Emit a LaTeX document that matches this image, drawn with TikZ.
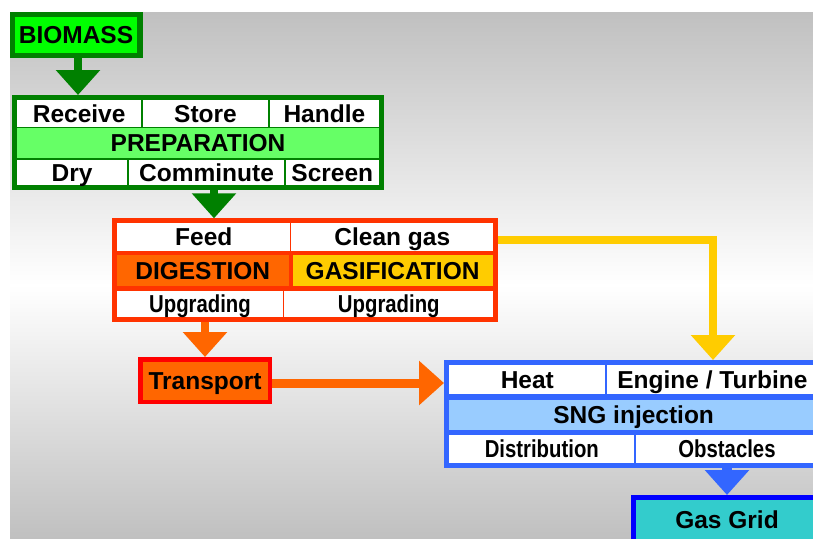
\documentclass[tikz,border=0pt]{standalone}
\usepackage{fontspec}
\setmainfont{Liberation Sans}
\usepackage{graphicx}
\usetikzlibrary{arrows.meta}
\definecolor{dkgreen}{HTML}{008000}
\definecolor{bgreen}{HTML}{00FF00}
\definecolor{lgreen}{HTML}{66FF66}
\definecolor{redorange}{HTML}{FF3300}
\definecolor{orng}{HTML}{FF6600}
\definecolor{goldy}{HTML}{FFCC00}
\definecolor{sblue}{HTML}{3366FF}
\definecolor{lblue}{HTML}{99CCFF}
\definecolor{tealy}{HTML}{33CCCC}
\definecolor{pureblue}{HTML}{0000FF}
\definecolor{purered}{HTML}{FF0000}
\definecolor{bggray}{HTML}{C0C0C0}
\newcommand\mkcell[7]{\node[cellbox,fill=#2,minimum width=#5pt,minimum height=#6pt] (#1) at (#3,#4) {#7};}
\newcommand\nrw[1]{\scalebox{0.83}[1]{#1}}
\tikzset{
  cellbox/.style={rectangle, inner sep=0pt, outer sep=0pt,
    font=\bfseries\fontsize{24.5}{28}\selectfont, text height=17.5pt, text depth=0pt},
  bigarrow/.style={line width=#1, -{Triangle[width=43pt,length=25pt]}},
  bigarrow/.default=8pt
}
\begin{document}
\begin{tikzpicture}[x=1pt,y=-1pt]
\useasboundingbox (0,0) rectangle (813,538);
% background
\fill[top color=bggray, bottom color=white] (10,12) rectangle (813,285.5);
\fill[top color=white, bottom color=bggray] (10,285) rectangle (813,538);

% BIOMASS
\mkcell{biomass}{dkgreen}{76}{35}{133}{46}{}
\mkcell{biomassin}{bgreen}{76}{35}{122}{36}{BIOMASS}

% PREPARATION box
\mkcell{prep}{dkgreen}{198}{142.5}{372}{95}{}
\mkcell{receive}{white}{79.15}{113.25}{124.3}{26.5}{Receive}
\mkcell{store}{white}{205.5}{113.25}{125.6}{26.5}{Store}
\mkcell{handle}{white}{324.35}{113.25}{109.3}{26.5}{Handle}
\mkcell{preparation}{lgreen}{198}{143}{362}{30}{PREPARATION}
\mkcell{dry}{white}{72.15}{172.25}{110.3}{25.5}{Dry}
\mkcell{comminute}{white}{206.5}{172.25}{155.6}{25.5}{Comminute}
\mkcell{screen}{white}{332.35}{172.25}{93.3}{25.5}{Screen}

% DIGESTION / GASIFICATION box
\mkcell{dig}{redorange}{305.3}{270}{386}{103.4}{}
\mkcell{feed}{white}{203.8}{237}{173}{27.4}{Feed}
\mkcell{clean}{white}{392.3}{237}{202}{27.4}{Clean gas}
\mkcell{digestion}{orng}{202.7}{270.5}{171.6}{31}{DIGESTION}
\mkcell{gasification}{goldy}{392.6}{270.5}{199.8}{31}{GASIFICATION}
\mkcell{upgA}{white}{200}{303.7}{165.4}{26}{\nrw{Upgrading}}
\mkcell{upgB}{white}{388.8}{303.7}{209}{26}{\nrw{Upgrading}}

% Transport
\mkcell{transport}{purered}{205}{380.5}{134}{47}{}
\mkcell{transportin}{orng}{205}{380.8}{125}{38.3}{Transport}

% SNG box
\mkcell{sng}{sblue}{633.5}{414.15}{379}{108.3}{}
\mkcell{heat}{white}{527.3}{379.5}{156}{29}{Heat}
\mkcell{engine}{white}{712.35}{379.5}{211.3}{29}{Engine / Turbine}
\mkcell{sngrow}{lblue}{633.65}{415}{368.7}{30}{SNG injection}
\mkcell{distribution}{white}{541.8}{448.85}{185}{27.7}{\nrw{Distribution}}
\mkcell{obstacles}{white}{727}{448.85}{182}{27.7}{\nrw{Obstacles}}

% Gas Grid
\mkcell{gasgrid}{pureblue}{727}{520}{192}{50}{}
\mkcell{gasgridin}{tealy}{727}{520}{182}{40}{Gas Grid}

% connectors
\coordinate (turn) at (713,240);
\draw[bigarrow, dkgreen] ([xshift=2pt]biomass.south) -- ([xshift=2pt]biomass.south |- prep.north);
\draw[bigarrow, dkgreen] ([xshift=16pt]prep.south) -- ([xshift=16pt]prep.south |- dig.north);
\draw[bigarrow, orng] (transport.north |- dig.south) -- (transport.north);
\draw[bigarrow=9pt, orng] ([yshift=-2.5pt]transport.east) -- ([yshift=-2.5pt]transport.east -| sng.west);
\draw[bigarrow, goldy] (turn -| dig.east) -- (turn) -- (turn |- sng.north);
\draw[bigarrow=10pt, sblue] (gasgrid.north |- sng.south) -- (gasgrid.north);
\end{tikzpicture}
\end{document}
